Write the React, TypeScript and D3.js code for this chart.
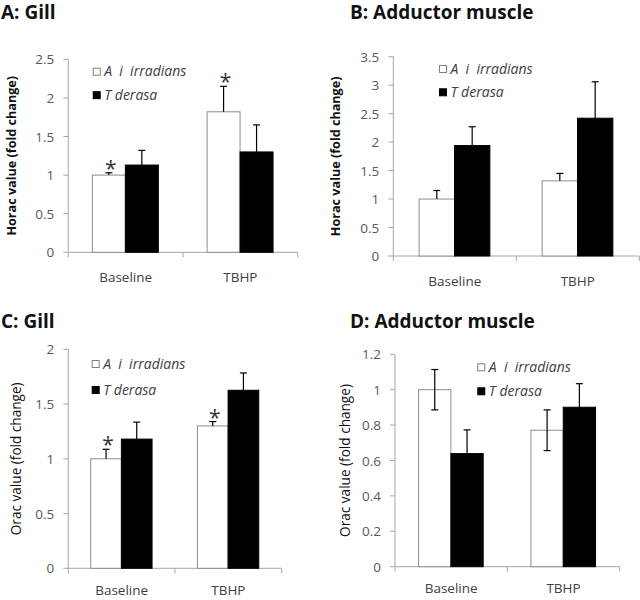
import React from "react";
import * as d3 from "d3";

const categories = ["Baseline", "TBHP"];
const seriesNames = ["A  i  irradians", "T derasa"];

// Panel A: Gill HORAC
const gillHoracScallop = [1.0, 1.82];
const gillHoracScallopErr = [0.03, 0.33];
const gillHoracClam = [1.13, 1.3];
const gillHoracClamErr = [0.19, 0.35];
const gillHoracStars = [true, true];

// Panel B: Adductor HORAC
const adductorHoracScallop = [1.0, 1.32];
const adductorHoracScallopErr = [0.15, 0.13];
const adductorHoracClam = [1.94, 2.42];
const adductorHoracClamErr = [0.33, 0.64];
const adductorHoracStars = [false, false];

// Panel C: Gill ORAC
const gillOracScallop = [1.0, 1.3];
const gillOracScallopErr = [0.087, 0.04];
const gillOracClam = [1.18, 1.626];
const gillOracClamErr = [0.155, 0.158];
const gillOracStars = [true, true];

// Panel D: Adductor ORAC
const adductorOracScallop = [1.0, 0.771];
const adductorOracScallopErr = [0.114, 0.115];
const adductorOracClam = [0.639, 0.901];
const adductorOracClamErr = [0.134, 0.133];
const adductorOracStars = [false, false];

const FONT = "'Open Sans', sans-serif";
const AXIS = "#a6a6a6";

type PanelProps = {
  title: string;
  titleX: number;
  titleY: number;
  yLabel: string;
  yLabelBold: boolean;
  yLabelX: number;
  scallop: number[];
  scallopErr: number[];
  clam: number[];
  clamErr: number[];
  stars: boolean[];
  both: boolean;
  max: number;
  step: number;
  x0: number;
  x1: number;
  yTop: number;
  yBottom: number;
  legX: number;
  legY: number;
  legGap: number;
  decimals: number;
  catOffset: number;
};

function Panel(p: PanelProps) {
  const y = d3.scaleLinear().domain([0, p.max]).range([p.yBottom, p.yTop]);
  const xBand = d3.scaleBand<string>().domain(categories).range([p.x0, p.x1]);
  const bw = xBand.bandwidth();
  const xInner = d3
    .scaleBand<string>()
    .domain(["s", "c"])
    .range([bw * 0.21, bw * 0.785]);
  const ticks = d3.range(0, p.max + p.step / 2, p.step);
  const fmt = (v: number) => {
    if (Math.abs(v) < 1e-9) return "0";
    const s = v.toFixed(p.decimals);
    return s.replace(/\.?0+$/, "");
  };
  const cap = 3.5;
  const bars = categories.flatMap((c, i) => [
    { key: "s" + i, cat: c, s: "s", v: p.scallop[i], e: p.scallopErr[i], star: p.stars[i] },
    { key: "c" + i, cat: c, s: "c", v: p.clam[i], e: p.clamErr[i], star: false },
  ]);
  const midY = (p.yTop + p.yBottom) / 2;
  return (
    <g>
      <text x={p.titleX} y={p.titleY} fontFamily={FONT} fontWeight="bold" fontSize={19} fill="#111">
        {p.title}
      </text>
      <text
        transform={`translate(${p.yLabelX},${midY}) rotate(-90)`}
        textAnchor="middle"
        dominantBaseline="middle"
        fontFamily={FONT}
        fontWeight={p.yLabelBold ? "bold" : "normal"}
        fontSize={p.yLabelBold ? 12.6 : 13.6}
        fill="#111"
      >
        {p.yLabel}
      </text>
      {/* y axis */}
      <line x1={p.x0} x2={p.x0} y1={p.yTop} y2={p.yBottom} stroke={AXIS} strokeWidth={1} />
      {ticks.map((t) => (
        <g key={t}>
          <line x1={p.x0 - 5} x2={p.x0} y1={y(t)} y2={y(t)} stroke={AXIS} />
          <text
            x={p.x0 - 14}
            y={y(t)}
            textAnchor="end"
            dominantBaseline="central"
            fontFamily={FONT}
            fontSize={13.5}
            fill="#595959"
          >
            {fmt(t)}
          </text>
        </g>
      ))}
      {/* x axis */}
      <line x1={p.x0} x2={p.x1} y1={p.yBottom} y2={p.yBottom} stroke={AXIS} />
      {[p.x0, ...categories.map((c) => (xBand(c) as number) + bw)].map((x, i) => (
        <line key={i} x1={x} x2={x} y1={p.yBottom} y2={p.yBottom + 5} stroke={AXIS} />
      ))}
      {categories.map((c) => (
        <text
          key={c}
          x={(xBand(c) as number) + bw / 2}
          y={p.yBottom + p.catOffset}
          textAnchor="middle"
          fontFamily={FONT}
          fontSize={13.5}
          fill="#404040"
        >
          {c}
        </text>
      ))}
      {/* bars */}
      {bars.map((b) => {
        const bx = (xBand(b.cat) as number) + (xInner(b.s) as number);
        const w = xInner.bandwidth();
        const cx = bx + w / 2;
        const top = y(b.v);
        const et = y(b.v + b.e);
        const eb = y(b.v - b.e);
        return (
          <g key={b.key}>
            <rect
              x={bx}
              y={top}
              width={w}
              height={p.yBottom - top}
              fill={b.s === "s" ? "#fff" : "#000"}
              stroke={b.s === "s" ? "#8c8c8c" : "#000"}
              strokeWidth={1}
            />
            <line x1={cx} x2={cx} y1={et} y2={p.both ? eb : top} stroke="#000" strokeWidth={1.2} />
            <line x1={cx - cap} x2={cx + cap} y1={et} y2={et} stroke="#000" strokeWidth={1.2} />
            {p.both && (
              <line x1={cx - cap} x2={cx + cap} y1={eb} y2={eb} stroke="#000" strokeWidth={1.2} />
            )}
            {b.star && (
              <text
                x={cx + 2}
                y={et + 3}
                textAnchor="middle"
                fontFamily={FONT}
                fontSize={21}
                fill="#333"
              >
                *
              </text>
            )}
          </g>
        );
      })}
      {/* legend */}
      {seriesNames.map((n, i) => (
        <g key={n}>
          <rect
            x={p.legX + 0.5}
            y={p.legY + i * p.legGap + 0.5}
            width={7}
            height={7}
            fill={i === 0 ? "#fff" : "#000"}
            stroke={i === 0 ? "#808080" : "#000"}
          />
          <text
            x={p.legX + 11.5}
            y={p.legY + i * p.legGap + 8.5}
            fontFamily={FONT}
            fontStyle="italic"
            fontSize={14}
            fill="#404040"
            style={{ whiteSpace: "pre" }}
          >
            {n}
          </text>
        </g>
      ))}
    </g>
  );
}

export default function App() {
  return (
    <svg width={640} height={600} style={{ position: "absolute", left: 0, top: 0, background: "#fff" }}>
      <Panel
        title="A: Gill"
        titleX={1}
        titleY={19}
        yLabel="Horac value (fold change)"
        yLabelBold={true}
        yLabelX={13}
        scallop={gillHoracScallop}
        scallopErr={gillHoracScallopErr}
        clam={gillHoracClam}
        clamErr={gillHoracClamErr}
        stars={gillHoracStars}
        both={false}
        max={2.5}
        step={0.5}
        decimals={1}
        x0={68.3}
        x1={297.7}
        yTop={59.3}
        yBottom={252.3}
        legX={92.7}
        legY={67.7}
        legGap={23.5}
        catOffset={30}
      />
      <Panel
        title="B: Adductor muscle"
        titleX={350}
        titleY={19}
        yLabel="Horac value (fold change)"
        yLabelBold={true}
        yLabelX={337}
        scallop={adductorHoracScallop}
        scallopErr={adductorHoracScallopErr}
        clam={adductorHoracClam}
        clamErr={adductorHoracClamErr}
        stars={adductorHoracStars}
        both={false}
        max={3.5}
        step={0.5}
        decimals={1}
        x0={393.3}
        x1={639.3}
        yTop={56.7}
        yBottom={256}
        legX={439}
        legY={65}
        legGap={23.3}
        catOffset={30}
      />
      <Panel
        title="C: Gill"
        titleX={1}
        titleY={328}
        yLabel="Orac value (fold change)"
        yLabelBold={false}
        yLabelX={17}
        scallop={gillOracScallop}
        scallopErr={gillOracScallopErr}
        clam={gillOracClam}
        clamErr={gillOracClamErr}
        stars={gillOracStars}
        both={false}
        max={2}
        step={0.5}
        decimals={1}
        x0={68.3}
        x1={281.7}
        yTop={349.3}
        yBottom={568.3}
        legX={91.7}
        legY={360}
        legGap={26}
        catOffset={27}
      />
      <Panel
        title="D: Adductor muscle"
        titleX={350}
        titleY={328}
        yLabel="Orac value (fold change)"
        yLabelBold={false}
        yLabelX={346.7}
        scallop={adductorOracScallop}
        scallopErr={adductorOracScallopErr}
        clam={adductorOracClam}
        clamErr={adductorOracClamErr}
        stars={adductorOracStars}
        both={true}
        max={1.2}
        step={0.2}
        decimals={1}
        x0={395}
        x1={619.7}
        yTop={354.3}
        yBottom={566.7}
        legX={477.3}
        legY={363.3}
        legGap={24}
        catOffset={26.5}
      />
    </svg>
  );
}
